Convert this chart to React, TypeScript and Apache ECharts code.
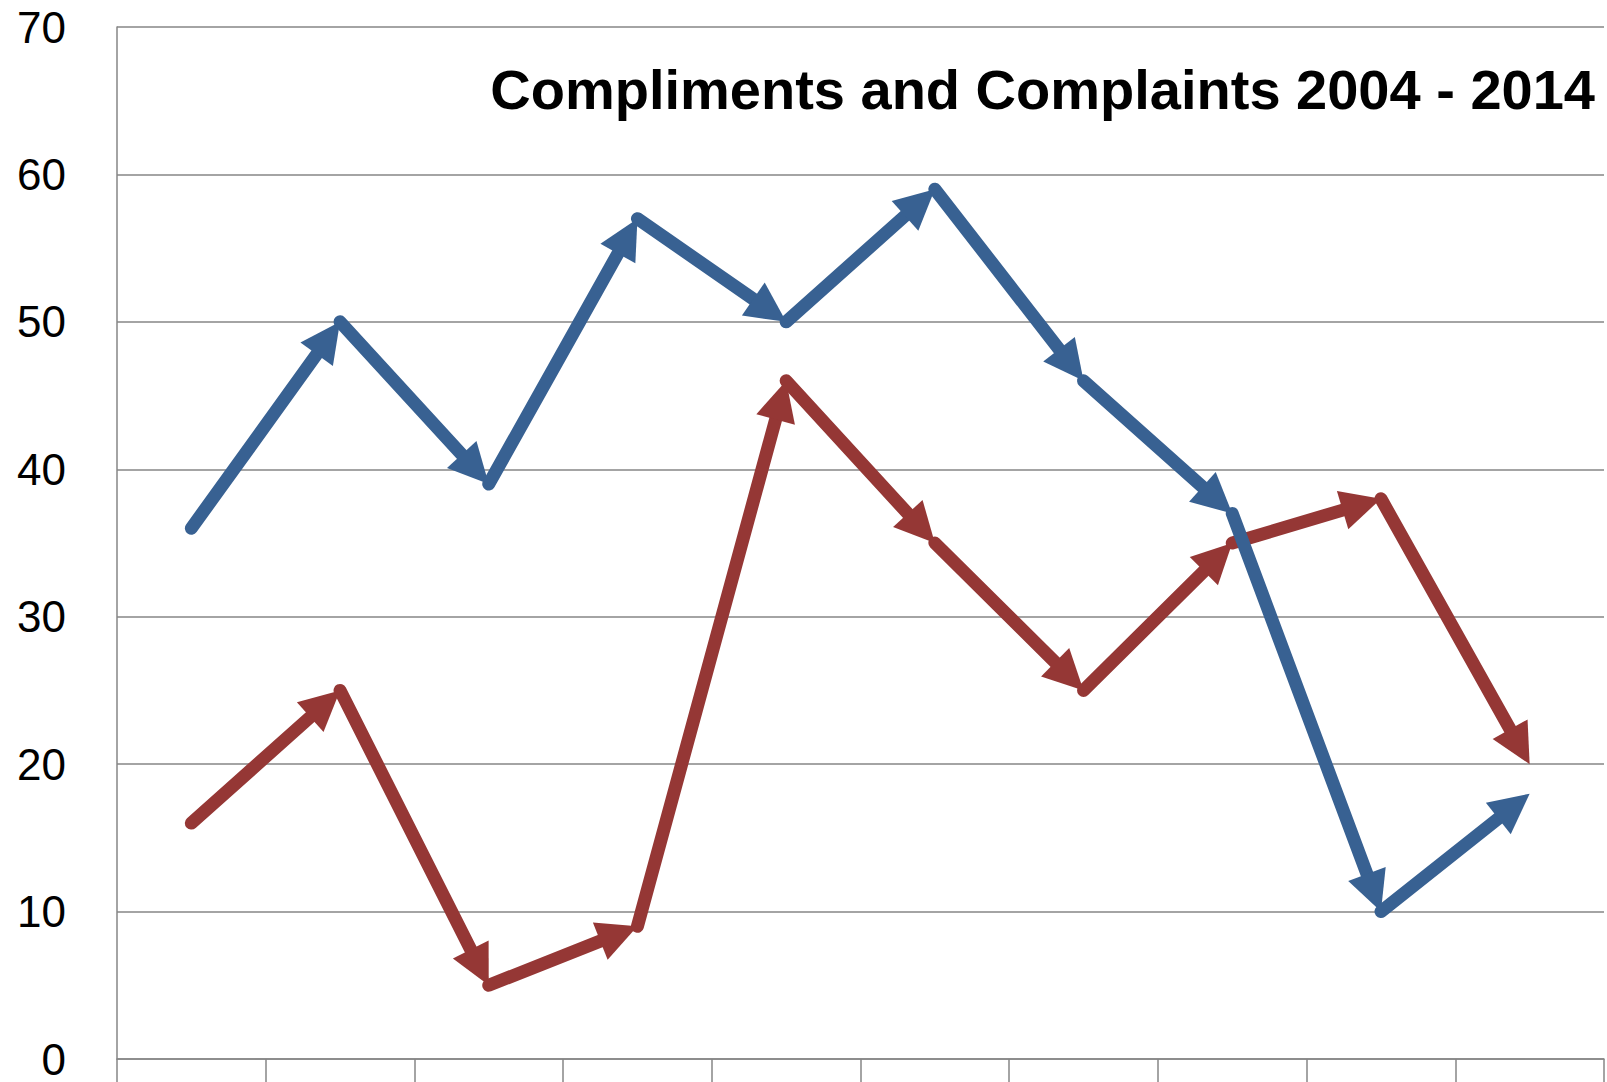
import React, { useEffect, useRef } from "react";
import * as echarts from "echarts";

const categories = ["2004", "2005", "2006", "2007", "2008", "2009", "2010", "2011", "2012", "2013"];
const compliments = [36, 50, 39, 57, 50, 59, 46, 37, 10, 18];
const complaints = [16, 25, 5, 9, 46, 35, 25, 35, 38, 20];
const yTicks = [0, 10, 20, 30, 40, 50, 60, 70];
const titleText = "Compliments and Complaints 2004 - 2014";

const BLUE = "#386192";
const RED = "#953735";

function segments(vals: number[]) {
  const out: number[][] = [];
  for (let i = 0; i < vals.length - 1; i++) out.push([i, vals[i], vals[i + 1]]);
  return out;
}

function arrowRenderer(color: string) {
  return (params: any, api: any) => {
    const i = api.value(0);
    const p0 = api.coord([i, api.value(1)]);
    const p1 = api.coord([i + 1, api.value(2)]);
    const dx = p1[0] - p0[0];
    const dy = p1[1] - p0[1];
    const len = Math.sqrt(dx * dx + dy * dy);
    const ux = dx / len;
    const uy = dy / len;
    const nx = -uy;
    const ny = ux;
    const L = 40;
    const W = 40;
    const bx = p1[0] - ux * L;
    const by = p1[1] - uy * L;
    const ex = p1[0] - ux * L * 0.8;
    const ey = p1[1] - uy * L * 0.8;
    return {
      type: "group",
      children: [
        {
          type: "line",
          shape: { x1: p0[0], y1: p0[1], x2: ex, y2: ey },
          style: { stroke: color, lineWidth: 13, lineCap: "round", fill: null },
        },
        {
          type: "polygon",
          shape: {
            points: [
              [p1[0], p1[1]],
              [bx + (nx * W) / 2, by + (ny * W) / 2],
              [bx - (nx * W) / 2, by - (ny * W) / 2],
            ],
          },
          style: { fill: color },
        },
      ],
    };
  };
}

export default function App() {
  const ref = useRef<HTMLDivElement>(null);
  useEffect(() => {
    const chart = echarts.init(ref.current!, null, { renderer: "svg" });
    chart.setOption({
      animation: false,
      backgroundColor: "#ffffff",
      grid: { left: 117, right: 3, top: 27, bottom: 23, containLabel: false },
      title: {
        text: titleText,
        right: 7,
        top: 56,
        textStyle: {
          fontFamily: "'Liberation Sans Narrow', 'Liberation Sans', Arial, sans-serif",
          fontWeight: "bold",
          fontSize: 56,
          color: "#000000",
        },
      },
      xAxis: {
        type: "category",
        data: categories,
        boundaryGap: true,
        axisLine: { show: true, lineStyle: { color: "#868686", width: 1.5 } },
        axisTick: { show: true, length: 30, lineStyle: { color: "#868686", width: 1.5 } },
        axisLabel: { show: false },
        splitLine: { show: false },
      },
      yAxis: {
        type: "value",
        min: yTicks[0],
        max: yTicks[yTicks.length - 1],
        interval: 10,
        axisLine: { show: true, lineStyle: { color: "#868686", width: 1.5 } },
        axisTick: { show: false },
        axisLabel: {
          margin: 51,
          fontSize: 44,
          lineHeight: 36,
          color: "#000000",
          fontFamily: "'Liberation Sans', Arial, sans-serif",
        },
        splitLine: { show: true, lineStyle: { color: "#868686", width: 1.5 } },
      },
      series: [
        {
          type: "custom",
          name: "Complaints",
          renderItem: arrowRenderer(RED),
          encode: { x: 0, y: [1, 2] },
          data: segments(complaints),
          z: 3,
        },
        {
          type: "custom",
          name: "Compliments",
          renderItem: arrowRenderer(BLUE),
          encode: { x: 0, y: [1, 2] },
          data: segments(compliments),
          z: 4,
        },
      ],
    });
    return () => chart.dispose();
  }, []);
  return (
    <div
      ref={ref}
      style={{ position: "fixed", left: 0, top: 0, width: 1607, height: 1082, background: "#fff" }}
    />
  );
}
